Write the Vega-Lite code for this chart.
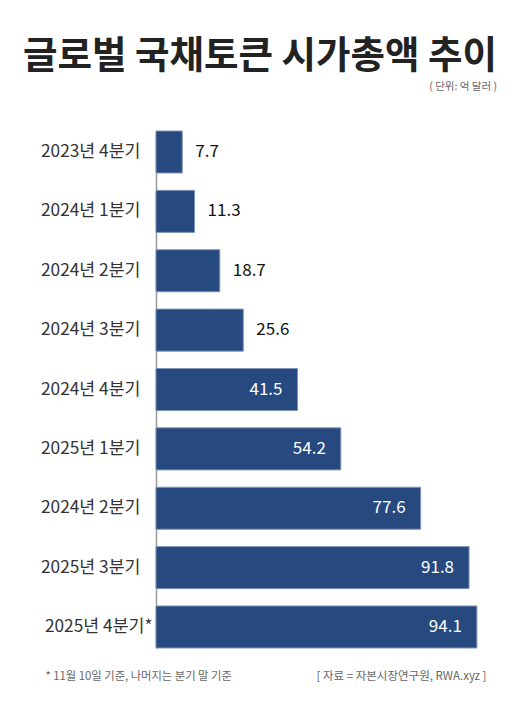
{
  "$schema": "https://vega.github.io/schema/vega-lite/v6.json",
  "description": "글로벌 국채토큰 시가총액 추이 (단위: 억 달러)",
  "autosize": "none",
  "width": 341,
  "height": 517,
  "padding": {"left": 156, "top": 131, "right": 25, "bottom": 57},
  "background": "white",
  "config": {
    "font": "Noto Sans CJK KR",
    "view": {"stroke": null}
  },
  "title": {
    "text": "글로벌 국채토큰 시가총액 추이",
    "subtitle": "( 단위: 억 달러 )",
    "anchor": "end",
    "frame": "group",
    "fontSize": 37.5,
    "fontWeight": "bold",
    "color": "#222222",
    "subtitleFontSize": 10.5,
    "subtitleColor": "#666666",
    "subtitlePadding": 7,
    "offset": 38
  },
  "data": {
    "values": [
      {"period": "2023년 4분기", "value": 7.7},
      {"period": "2024년 1분기", "value": 11.3},
      {"period": "2024년 2분기", "value": 18.7},
      {"period": "2024년 3분기", "value": 25.6},
      {"period": "2024년 4분기", "value": 41.5},
      {"period": "2025년 1분기", "value": 54.2},
      {"period": "\u200b2024년 2분기", "value": 77.6},
      {"period": "2025년 3분기", "value": 91.8},
      {"period": "2025년 4분기*", "value": 94.1}
    ]
  },
  "encoding": {
    "y": {
      "field": "period",
      "type": "nominal",
      "sort": null,
      "scale": {"paddingInner": 0.2926, "paddingOuter": 0},
      "axis": {
        "title": "* 11월 10일 기준, 나머지는 분기 말 기준",
        "titleAngle": 0,
        "titleAlign": "left",
        "titleBaseline": "alphabetic",
        "titleX": -111,
        "titleY": 548,
        "titleFontSize": 11.3,
        "titleFontWeight": "normal",
        "titleColor": "#666666",
        "ticks": false,
        "labelPadding": {"condition": {"test": "datum.value == '2025년 4분기*'", "value": 4}, "value": 16},
        "labelFontSize": 17.3,
        "labelColor": "#333333",
        "domainColor": "#999999",
        "domainWidth": 1.5
      }
    },
    "x": {
      "field": "value",
      "type": "quantitative",
      "scale": {"domain": [0, 100]},
      "axis": {
        "title": "[ 자료 = 자본시장연구원, RWA.xyz ]",
        "titleAnchor": "end",
        "titleAlign": "right",
        "titleBaseline": "alphabetic",
        "titleX": 330,
        "titleY": 31,
        "titleFontSize": 11.5,
        "titleFontWeight": "normal",
        "titleColor": "#666666",
        "labels": false,
        "ticks": false,
        "domain": false,
        "grid": false
      }
    }
  },
  "layer": [
    {
      "mark": {"type": "bar", "color": "#26497f", "stroke": "#7f95b8", "strokeWidth": 1}
    },
    {
      "transform": [{"filter": "datum.value < 40"}],
      "mark": {"type": "text", "align": "left", "dx": 13, "fontSize": 17, "color": "#111111"},
      "encoding": {"text": {"field": "value", "type": "quantitative", "format": ".1f"}}
    },
    {
      "transform": [{"filter": "datum.value >= 40"}],
      "mark": {"type": "text", "align": "right", "dx": -15, "fontSize": 17, "color": "white"},
      "encoding": {"text": {"field": "value", "type": "quantitative", "format": ".1f"}}
    }
  ]
}
